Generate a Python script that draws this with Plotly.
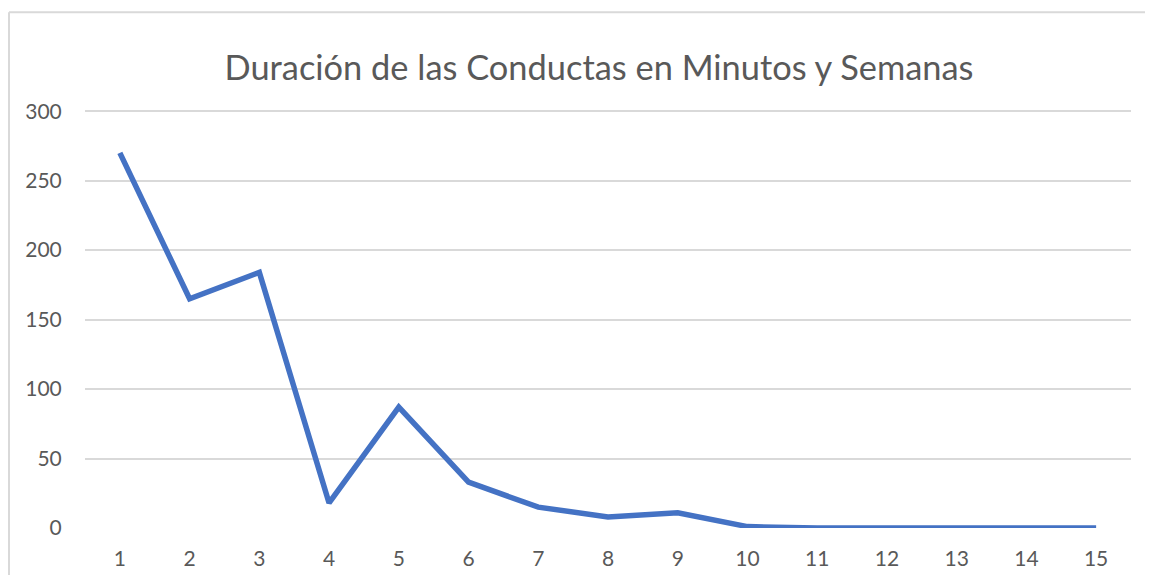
import plotly.graph_objects as go

semanas = [1, 2, 3, 4, 5, 6, 7, 8, 9, 10, 11, 12, 13, 14, 15]
duracion = [270, 165, 184, 18, 87, 33, 15, 8, 11, 1, 0, 0, 0, 0, 0]
y_ticks = [0, 50, 100, 150, 200, 250, 300]
titulo = "Duración de las Conductas en Minutos y Semanas"

FONT = "Lato"
GRAY = "#595959"
GRID = "#d9d9d9"

# page body has an 8px margin on every side; size the figure so nothing scrolls
OFF = 8
W, H = 1153 - 2 * OFF, 583 - 2 * OFF
Y_TOP = 303
plot_h = 417 * Y_TOP / 300

fig = go.Figure()
fig.add_trace(go.Scatter(
    x=semanas, y=duracion, mode="lines",
    line=dict(color="#4472C4", width=5.5, shape="linear"),
    hoverinfo="x+y", showlegend=False,
))

b = (H + OFF) - 528
t = H - b - plot_h
r = (W + OFF) - 1131
frame_top = (528 - 12) / plot_h
frame_left = (9 - 85) / 1046
frame_right = (W + OFF - 85) / 1046
frame_bottom = -(b) / plot_h

fig.update_layout(
    width=W, height=H,
    margin=dict(l=85 - OFF, r=r, t=t, b=b, autoexpand=False),
    paper_bgcolor="white", plot_bgcolor="white",
    title=dict(text=titulo, x=(599 - OFF) / W, xref="container", xanchor="center",
               y=1 - (68 - OFF) / H, yref="container", yanchor="middle",
               font=dict(family=FONT, size=34.4, color=GRAY)),
    font=dict(family=FONT, color=GRAY),
    xaxis=dict(
        range=[0.5, 15.5], tickmode="array", tickvals=semanas,
        ticktext=[str(s) for s in semanas],
        showgrid=False, zeroline=False, showline=False,
        ticks="outside", ticklen=12, tickcolor="rgba(0,0,0,0)",
        tickfont=dict(family=FONT, size=21, color=GRAY),
    ),
    yaxis=dict(
        range=[0, Y_TOP], tickmode="array", tickvals=y_ticks,
        showgrid=True, gridcolor=GRID, gridwidth=2,
        zeroline=False, showline=False,
        ticks="outside", ticklen=18, tickcolor="rgba(0,0,0,0)",
        tickfont=dict(family=FONT, size=21, color=GRAY),
    ),
    shapes=[
        dict(type="line", xref="paper", yref="paper",
             x0=frame_left, x1=frame_right, y0=frame_top, y1=frame_top,
             line=dict(color=GRID, width=2), layer="below"),
        dict(type="line", xref="paper", yref="paper",
             x0=frame_left, x1=frame_left, y0=frame_top, y1=frame_bottom,
             line=dict(color=GRID, width=2), layer="below"),
    ],
)

fig.write_html("out.html")
